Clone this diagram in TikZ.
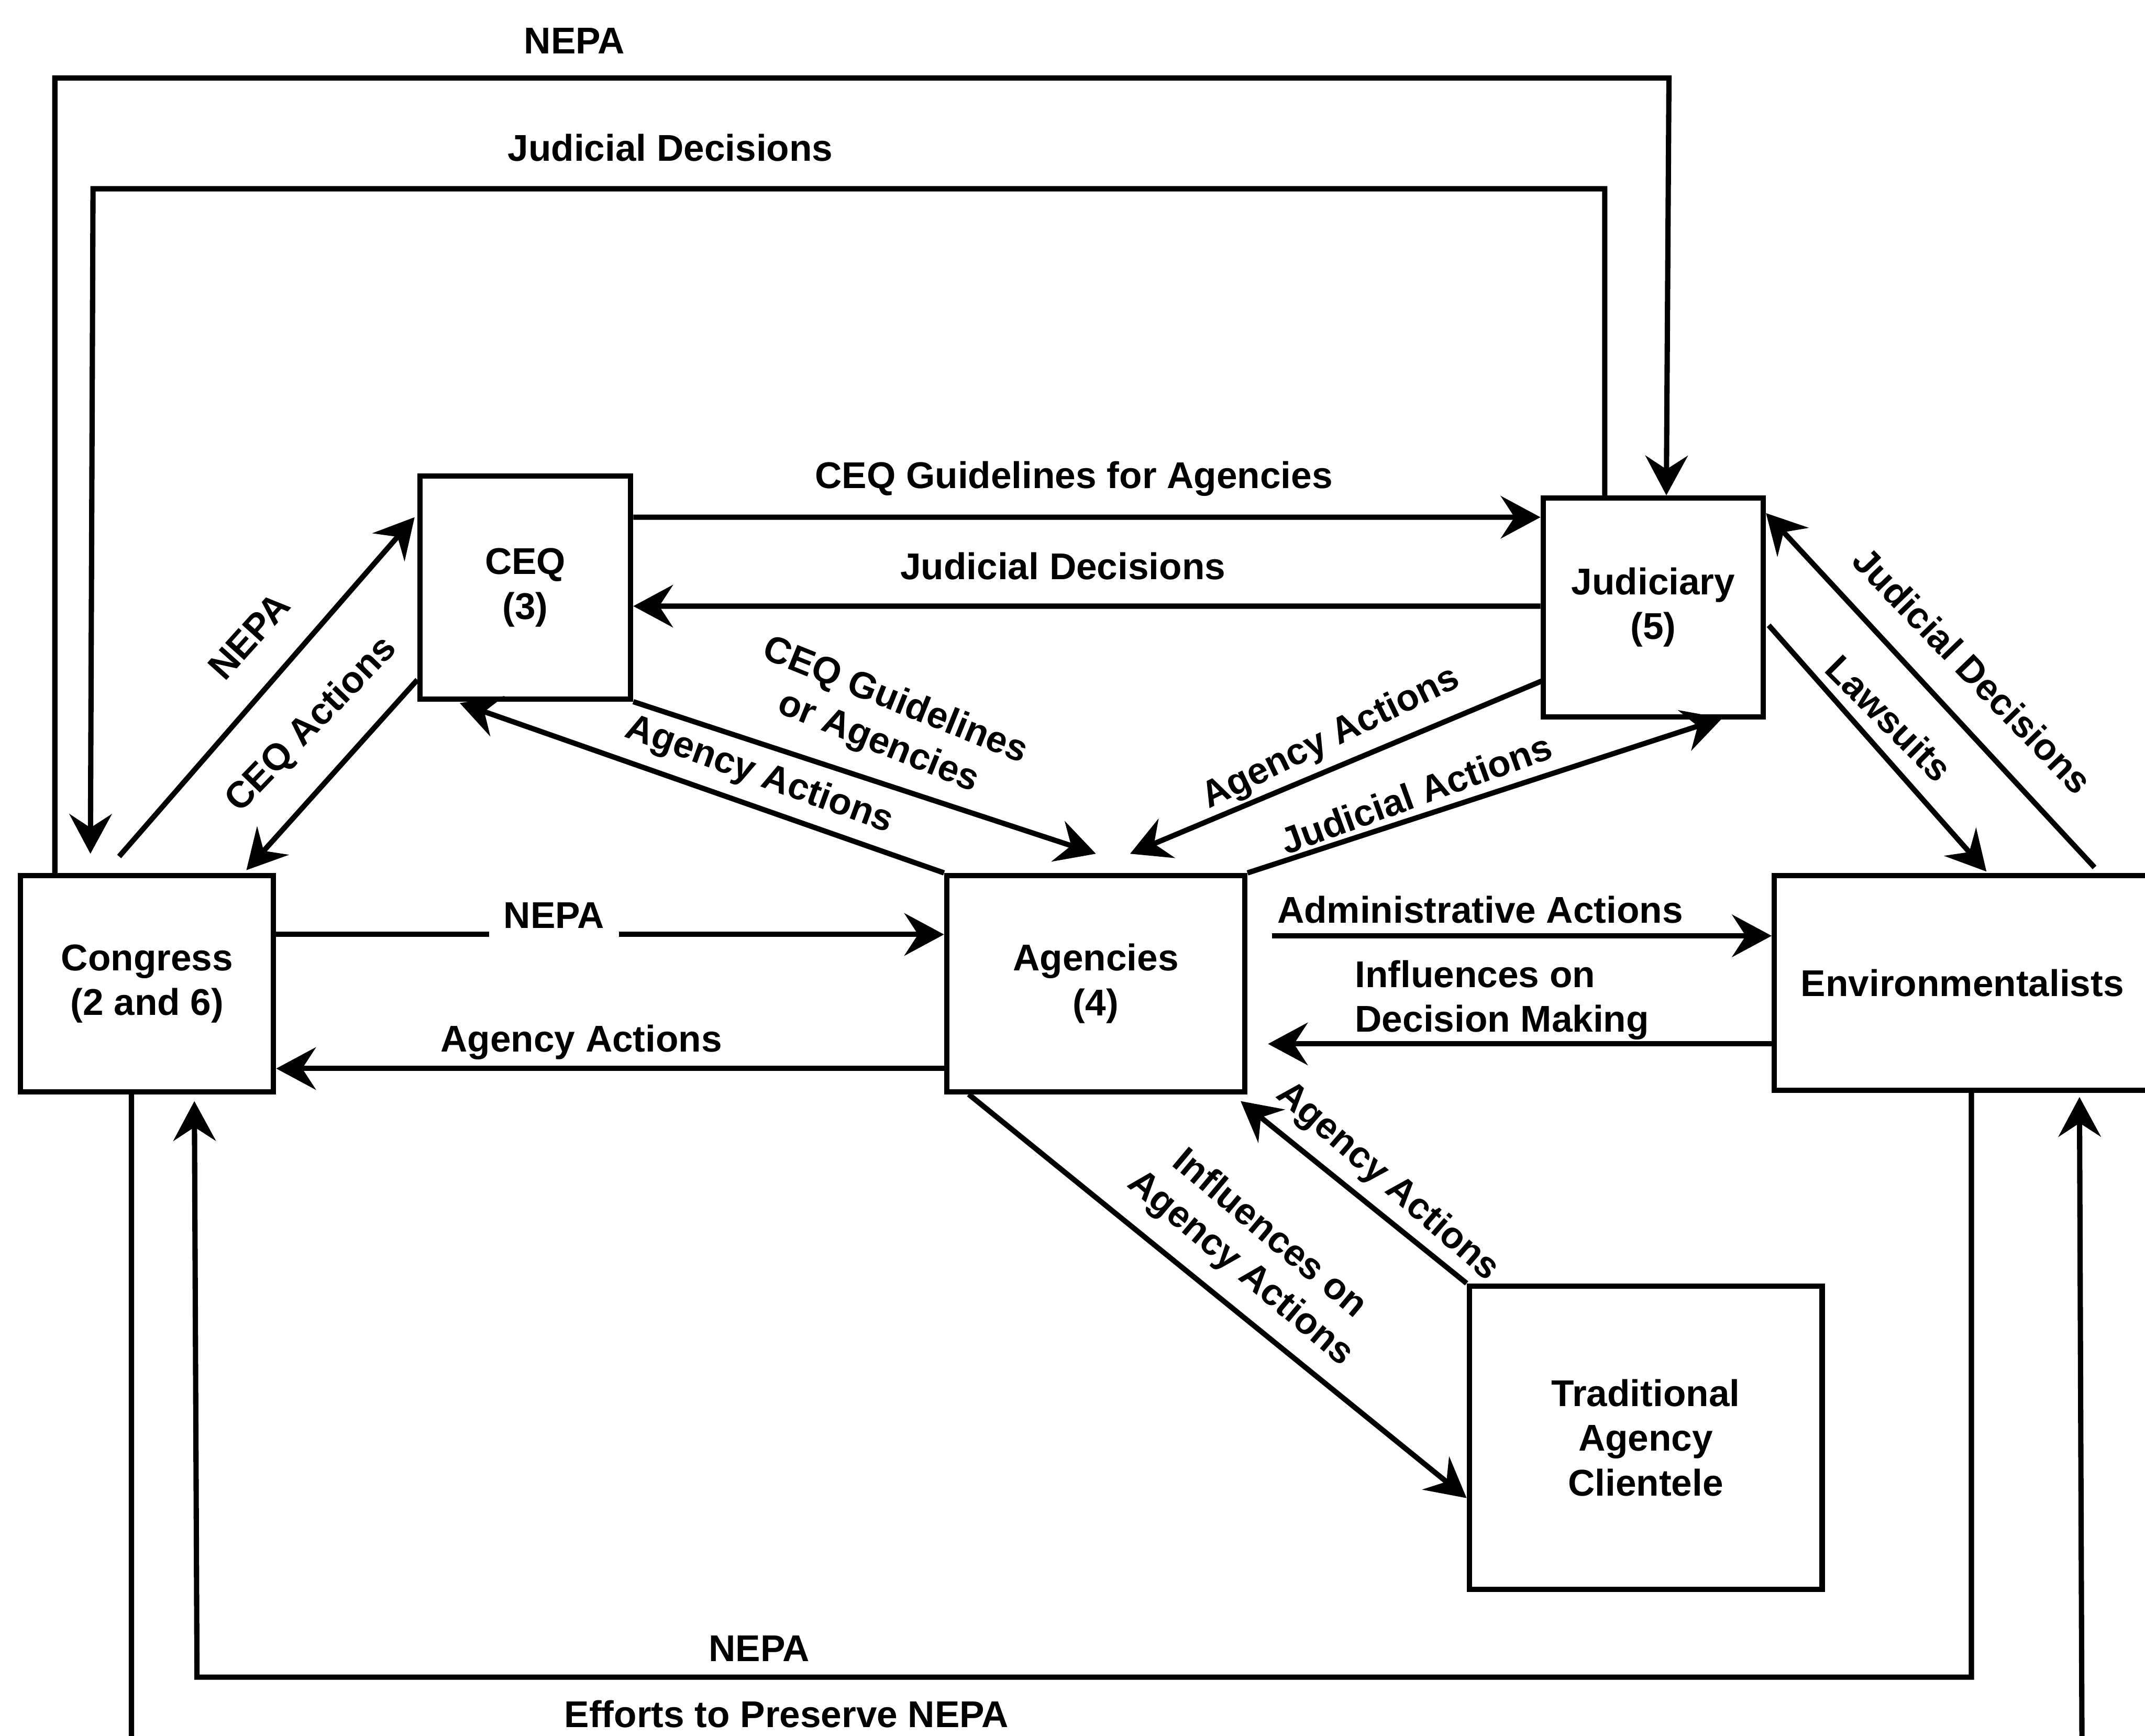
\documentclass[tikz,border=0pt]{standalone}
\usepackage{fontspec}
\setmainfont{Liberation Sans}
\usetikzlibrary{arrows.meta,calc}
\newcommand\diagfont{\bfseries\fontsize{15.5}{18.6}\selectfont}
\begin{document}
\begin{tikzpicture}[x=0.02cm,y=-0.02cm,
  line width=2.2pt,
  box/.style={draw, rectangle, align=center, inner sep=0pt, font=\diagfont},
  lbl/.style={inner sep=0pt, align=center, font=\diagfont},
  arr/.style={-{Stealth[length=0.58cm,width=0.62cm,inset=0.2cm]}}]
\useasboundingbox (0,0) rectangle (1568,1269);
\fill[white] (0,0) rectangle (1568,1269);

% actors
\node[box, minimum width=3.7cm,  minimum height=3.16cm] (congress)  at (107.5,719)  {Congress\\(2 and 6)};
\node[box, minimum width=3.08cm, minimum height=3.26cm] (ceq)       at (384,429.5)  {CEQ\\(3)};
\node[box, minimum width=3.22cm, minimum height=3.2cm]  (judiciary) at (1208.5,444) {Judiciary\\(5)};
\node[box, minimum width=4.36cm, minimum height=3.16cm] (agencies)  at (801,719)    {Agencies\\(4)};
\node[box, minimum width=5.5cm,  minimum height=3.14cm] (env)       at (1434.5,718.5) {Environmentalists};
\node[box, minimum width=5.16cm, minimum height=4.44cm] (clientele) at (1203,1051)  {Traditional\\Agency\\Clientele};

% turning points of the outer loops
\coordinate (nepaTurn) at (1220,57);
\coordinate (jdTurn)   at (68,138);
\coordinate (nbTurn)   at (144,1226);
\coordinate (efTurn)   at (1522,1300);

% outer loops
\draw[arr] ($(congress.north west)+(27,0)$) |- (nepaTurn) -- ($(judiciary.north west)+(92,0)$);
\draw[arr] ($(judiciary.north west)+(47,0)$) |- (jdTurn) -- ($(congress.north west)+(53,-14)$);
\draw[arr] ($(env.south west)+(146,0)$) |- (nbTurn) -- ($(congress.south west)+(129,5)$);
\draw[arr] ($(congress.south west)+(83,0)$) |- (efTurn) -- ($(env.south west)+(225,3)$);

% CEQ and Judiciary
\draw[arr] ($(ceq.north east)+(0,32)$) -- ($(judiciary.north west)+(0,16)$);
\draw[arr] ($(judiciary.north west)+(0,81)$) -- ($(ceq.north east)+(0,97)$);

% Congress and CEQ
\draw[arr] ($(congress.north west)+(74,-12)$) -- ($(ceq.north west)+(-2,32)$);
\draw[arr] ($(ceq.south west)+(0,-16)$) -- ($(congress.north west)+(167,-2)$);

% Agencies and CEQ
\draw[arr] (agencies.north west) -- ($(ceq.south west)+(31,1)$);
\draw[arr] (ceq.south east) -- ($(agencies.north west)+(111,-14)$);

% Agencies and Judiciary
\draw[arr] ($(judiciary.south west)+(3,-29)$) -- ($(agencies.north west)+(136,-14)$);
\draw[arr] (agencies.north east) -- ($(judiciary.south west)+(133,-1)$);

% Agencies and Environmentalists
\draw[arr] ($(agencies.north east)+(18,46)$) -- ($(env.north west)+(0,46)$);
\draw[arr] ($(env.north west)+(0,125)$) -- ($(agencies.north east)+(15,125)$);

% Congress and Agencies
\draw[arr] ($(congress.north east)+(0,45)$) -- ($(agencies.north west)+(0,45)$);
\draw[arr] ($(agencies.north west)+(0,143)$) -- ($(congress.north east)+(0,143)$);

% Judiciary and Environmentalists
\draw[arr] ($(judiciary.north east)+(2,95)$) -- ($(env.north west)+(157,-1)$);
\draw[arr] ($(env.north west)+(236,-4)$) -- ($(judiciary.north east)+(0,13)$);

% Agencies and clientele
\draw[arr] ($(agencies.south west)+(18,0)$) -- ($(clientele.north west)+(0,157)$);
\draw[arr] (clientele.north west) -- ($(agencies.south east)+(-5,5)$);

% labels
\node[lbl] (lNepaTop)  at (420,30)   {NEPA};
\node[lbl] (lJudTop)   at (490,108)  {Judicial Decisions};
\node[lbl] (lCeqGuide) at (785,350)  {CEQ Guidelines for Agencies};
\node[lbl] (lJudMid)   at (777,414)  {Judicial Decisions};
\node[lbl, fill=white, inner xsep=6pt, inner ysep=6pt] (lNepaCA) at (405,669) {NEPA};
\node[lbl] (lAgCA)     at (425,762)  {Agency Actions};
\node[lbl] (lAdmin)    at (1082,665) {Administrative Actions};
\node[lbl, align=left] (lInflDM) at (1098,731) {Influences on\\Decision Making};
\node[lbl, rotate=48]  (lNepaDiag) at (182,465) {NEPA};
\node[lbl, rotate=46]  (lCeqAct)   at (228,530) {CEQ Actions};
\node[lbl, rotate=-20] (lAgCeq)    at (555,567) {Agency Actions};
\node[lbl, rotate=-22] (lGuideOr)  at (648,528) {CEQ Guidelines\\or Agencies};
\node[lbl, rotate=26]  (lAgJud)    at (973,540) {Agency Actions};
\node[lbl, rotate=20]  (lJudAct)   at (1035,580) {Judicial Actions};
\node[lbl, rotate=-45] (lLaw)      at (1381,525) {Lawsuits};
\node[lbl, rotate=-46] (lJudEnv)   at (1442,490) {Judicial Decisions};
\node[lbl, rotate=-40] (lInflAg)   at (917,915)  {Influences on\\Agency Actions};
\node[lbl, rotate=-41] (lAgCli)    at (1014,864) {Agency Actions};
\node[lbl] (lNepaBot)  at (555,1205) {NEPA};
\node[lbl] (lEfforts)  at (575,1253) {Efforts to Preserve NEPA};
\end{tikzpicture}
\end{document}
